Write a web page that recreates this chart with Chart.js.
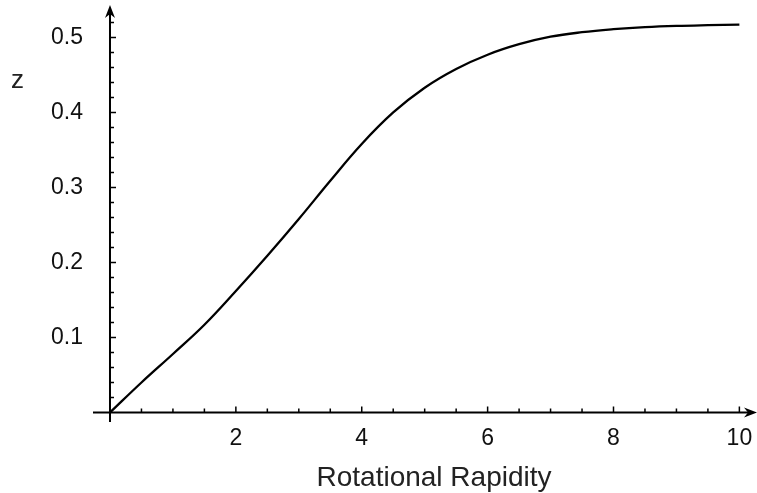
<!DOCTYPE html>
<html>
<head>
<meta charset="utf-8">
<script src="https://cdn.jsdelivr.net/npm/chart.js@4.4.1/dist/chart.umd.min.js"></script>
<style>
  html, body { margin: 0; padding: 0; background: #fff; }
</style>
</head>
<body>
<canvas id="chart" width="757" height="493"></canvas>
<script>
// данные кривой
const rapidity = [0, 0.5, 1, 1.5, 2, 2.5, 3, 3.5, 4, 4.5, 5, 5.5, 6, 6.5, 7, 7.5, 8, 8.5, 9, 9.5, 10];
const zValues = [0, 0.040, 0.078, 0.117, 0.162, 0.209, 0.258, 0.309, 0.358, 0.400, 0.433, 0.458, 0.477, 0.491, 0.501, 0.507, 0.511, 0.5138, 0.5155, 0.5164, 0.517];

// подписи делений
const xTickValues = [2, 4, 6, 8, 10];
const yTickValues = [0.1, 0.2, 0.3, 0.4, 0.5];

const FONT = '"Liberation Sans", Arial, sans-serif';

// оси через начало координат, мелкие деления, стрелки и подписи осей
const axesPlugin = {
    id: 'axesThroughOrigin',
    beforeDatasetsDraw(chart) {
        const { ctx, chartArea } = chart;
        const xs = chart.scales.x;
        const ys = chart.scales.y;
        const x0 = xs.getPixelForValue(0);
        const y0 = ys.getPixelForValue(0);

        ctx.save();
        ctx.strokeStyle = '#000';
        ctx.fillStyle = '#000';
        ctx.lineWidth = 2;

        // линии осей
        ctx.beginPath();
        ctx.moveTo(chartArea.left, y0);
        ctx.lineTo(chartArea.right - 6, y0);
        ctx.moveTo(x0, chartArea.bottom);
        ctx.lineTo(x0, chartArea.top + 6);
        ctx.stroke();

        // деления по x
        ctx.lineWidth = 1.5;
        ctx.beginPath();
        for (let v = 0.5; v <= 10.001; v += 0.5) {
            const px = xs.getPixelForValue(v);
            const len = Math.abs(v % 2) < 0.001 ? 6 : 4;
            ctx.moveTo(px, y0);
            ctx.lineTo(px, y0 - len);
        }
        // деления по y
        for (let i = 1; i <= 26; i++) {
            const v = i * 0.02;
            const py = ys.getPixelForValue(v);
            const len = i % 5 === 0 ? 6 : 4;
            ctx.moveTo(x0, py);
            ctx.lineTo(x0 + len, py);
        }
        ctx.stroke();

        // стрелки
        ctx.beginPath();
        ctx.moveTo(chartArea.right, y0);
        ctx.lineTo(chartArea.right - 13, y0 - 5);
        ctx.lineTo(chartArea.right - 9, y0);
        ctx.lineTo(chartArea.right - 13, y0 + 5);
        ctx.closePath();
        ctx.moveTo(x0, chartArea.top);
        ctx.lineTo(x0 - 5, chartArea.top + 13);
        ctx.lineTo(x0, chartArea.top + 9);
        ctx.lineTo(x0 + 5, chartArea.top + 13);
        ctx.closePath();
        ctx.fill();

        // подписи осей
        ctx.fillStyle = '#222';
        ctx.textAlign = 'center';
        ctx.textBaseline = 'alphabetic';
        ctx.font = '26px ' + FONT;
        ctx.fillText('z', 17.5, 87.5);
        ctx.font = '28px ' + FONT;
        ctx.fillText('Rotational Rapidity', 434, 486);
        ctx.restore();
    }
};

const ctx = document.getElementById('chart').getContext('2d');
const zChart = new Chart(ctx, {
    type: 'line',
    data: {
        datasets: [{
            data: rapidity.map((x, i) => ({ x: x, y: zValues[i] })),
            borderColor: '#000',
            borderWidth: 2.3,
            pointRadius: 0,
            fill: false,
            tension: 0.4
        }]
    },
    options: {
        responsive: false,
        animation: false,
        layout: { padding: { top: 5, right: 0, left: 0, bottom: 0 } },
        plugins: {
            legend: { display: false },
            tooltip: { enabled: false }
        },
        scales: {
            x: {
                type: 'linear',
                min: -0.27,
                max: 10.28,
                grid: { display: false, drawTicks: false },
                border: { display: false },
                afterBuildTicks: s => { s.ticks = xTickValues.map(v => ({ value: v })); },
                afterFit: s => {
                    s.height = 71;
                    s.paddingLeft = 0;
                    s.paddingRight = 0;
                },
                ticks: {
                    color: '#111',
                    padding: 3,
                    maxRotation: 0,
                    font: { family: FONT, size: 23 },
                    callback: v => String(v)
                }
            },
            y: {
                type: 'linear',
                min: -0.0127,
                max: 0.5433,
                grid: { display: false, drawTicks: false },
                border: { display: false },
                afterBuildTicks: s => { s.ticks = yTickValues.map(v => ({ value: v })); },
                afterFit: s => {
                    s.width = 93;
                    s.paddingTop = 0;
                    s.paddingBottom = 0;
                },
                ticks: {
                    color: '#111',
                    padding: 10,
                    font: { family: FONT, size: 23 },
                    callback: v => v.toFixed(1)
                }
            }
        }
    },
    plugins: [axesPlugin]
});
</script>
</body>
</html>
